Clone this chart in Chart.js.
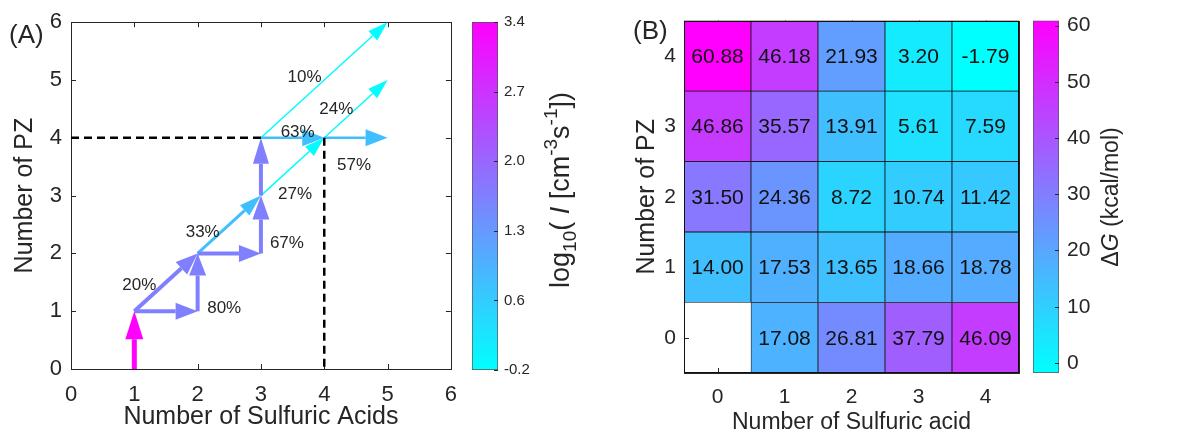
<!DOCTYPE html>
<html>
<head>
<meta charset="utf-8">
<title>PZ - sulfuric acid clusters</title>
<script src="https://cdn.jsdelivr.net/npm/chart.js@4.4.1/dist/chart.umd.min.js"></script>
<style>
  body { margin: 0; background: #fff; }
  #page { position: relative; width: 1191px; height: 432px; overflow: hidden; background: #fff; }
  #page canvas { position: absolute; top: 0; }
  .tag { position: absolute; font: 26px "Liberation Sans", Arial, sans-serif; color: #262626; line-height: 1; }
</style>
</head>
<body>
<div id="page">
  <canvas id="growth" width="470" height="440" style="left:0px"></canvas>
  <canvas id="rateBar" width="160" height="440" style="left:440px"></canvas>
  <canvas id="energy" width="425" height="440" style="left:600px"></canvas>
  <canvas id="energyBar" width="166" height="440" style="left:1025px"></canvas>
  <div class="tag" style="left:9px;top:21px">(A)</div>
  <div class="tag" style="left:633px;top:17px">(B)</div>
</div>
<script>
const FONT = '"Liberation Sans", Arial, Helvetica, sans-serif';
const INK = '#262626';

// ---- panel A: growth pathways ----
const axisMaxA = 6;
const fromSA = [1, 1, 1, 2, 2, 3, 3, 2, 3, 4, 3, 4, 3];
const fromPZ = [0, 1, 1, 1, 2, 2, 3, 2, 4, 4, 3, 4, 4];
const toSA   = [1, 2, 2, 2, 3, 3, 3, 3, 4, 5, 4, 5, 5];
const toPZ   = [1, 1, 2, 2, 2, 3, 4, 3, 4, 4, 4, 5, 6];
const fluxLog = [3.4, 1.6, 1.6, 1.6, 1.6, 1.6, 1.6, 0.7, 0.7, 0.7, -0.15, -0.15, -0.15];

// arrow styles (px)
const shaftW = [5, 4, 4, 4, 4, 4, 4, 3, 2.5, 2.5, 1.5, 1.5, 1.5];
const headL  = [28, 22, 22, 22, 22, 24, 26, 22, 22, 22, 20, 20, 20];
const headW  = [18, 17, 17, 17, 17, 17, 16, 14, 17, 17, 13, 13, 13];

const pctText = ['80%', '20%', '67%', '33%', '27%', '63%', '57%', '24%', '10%'];
const pctSA   = [2.42, 1.08, 3.41, 2.08, 3.54, 3.58, 4.47, 4.19, 3.69];
const pctPZ   = [1.05, 1.45, 2.17, 2.37, 3.02, 4.09, 3.53, 4.49, 5.04];

const guideSA = [[0, 3], [4, 4]];
const guidePZ = [[4, 4], [4, 0]];

const fluxRange = [-0.2, 3.4];
const fluxTickLabels = ['-0.2', '0.6', '1.3', '2.0', '2.7', '3.4'];

// ---- panel B: formation free energies ----
const saLabels = ['0', '1', '2', '3', '4'];
const pzTicks = [0, 1, 2, 3, 4];
const dG_PZ0 = [null, 17.08, 26.81, 37.79, 46.09];
const dG_PZ1 = [14.00, 17.53, 13.65, 18.66, 18.78];
const dG_PZ2 = [31.50, 24.36, 8.72, 10.74, 11.42];
const dG_PZ3 = [46.86, 35.57, 13.91, 5.61, 7.59];
const dG_PZ4 = [60.88, 46.18, 21.93, 3.20, -1.79];
const dGRange = [-1.79, 60.88];
const dGTicks = [0, 10, 20, 30, 40, 50, 60];

// MATLAB "cool" colormap
function cool(t) {
  t = Math.max(0, Math.min(1, t));
  return `rgb(${Math.round(255 * t)},${Math.round(255 * (1 - t))},255)`;
}
function coolGradient(chart) {
  const area = chart.chartArea;
  if (!area) return '#0ff';
  const g = chart.ctx.createLinearGradient(0, area.bottom, 0, area.top);
  g.addColorStop(0, 'rgb(0,255,255)');
  g.addColorStop(1, 'rgb(255,0,255)');
  return g;
}

// draws text made of parts (sub/superscripts, italics), rotated
function drawRich(ctx, parts, cx, cy, rot, base) {
  ctx.save();
  let total = 0;
  parts.forEach(p => {
    ctx.font = `${p.italic ? 'italic ' : ''}${p.size}px ${FONT}`;
    p.w = ctx.measureText(p.t).width;
    total += p.w;
  });
  ctx.translate(cx, cy);
  ctx.rotate(rot);
  ctx.fillStyle = INK;
  ctx.textBaseline = 'alphabetic';
  ctx.textAlign = 'left';
  let x = -total / 2;
  parts.forEach(p => {
    ctx.font = `${p.italic ? 'italic ' : ''}${p.size}px ${FONT}`;
    ctx.fillText(p.t, x, base + (p.dy || 0));
    x += p.w;
  });
  ctx.restore();
}

function tickFont(size) { return { size: size, family: FONT }; }

// ---------- plugins ----------
const framePlugin = {
  id: 'frame',
  beforeDatasetsDraw(chart) {
    const { ctx, chartArea: a, scales } = chart;
    ctx.save();
    ctx.strokeStyle = INK;
    ctx.lineWidth = 1;
    ctx.beginPath();
    scales.x.ticks.forEach(t => {
      const x = Math.round(scales.x.getPixelForValue(t.value)) + 0.5;
      ctx.moveTo(x, a.bottom); ctx.lineTo(x, a.bottom - 5);
      ctx.moveTo(x, a.top); ctx.lineTo(x, a.top + 5);
    });
    scales.y.ticks.forEach(t => {
      const y = Math.round(scales.y.getPixelForValue(t.value)) + 0.5;
      ctx.moveTo(a.left, y); ctx.lineTo(a.left + 5, y);
      ctx.moveTo(a.right, y); ctx.lineTo(a.right - 5, y);
    });
    ctx.stroke();
    ctx.strokeRect(Math.round(a.left) + 0.5, Math.round(a.top) + 0.5,
      Math.round(a.right - a.left), Math.round(a.bottom - a.top));
    ctx.restore();
  }
};

function headGeom(chart, i) {
  const xs = chart.scales.x, ys = chart.scales.y;
  const x0 = xs.getPixelForValue(fromSA[i]), y0 = ys.getPixelForValue(fromPZ[i]);
  const x1 = xs.getPixelForValue(toSA[i]), y1 = ys.getPixelForValue(toPZ[i]);
  const len = Math.hypot(x1 - x0, y1 - y0);
  const ux = (x1 - x0) / len, uy = (y1 - y0) / len;
  const nx = -uy, ny = ux;
  const bx = x1 - ux * headL[i], by = y1 - uy * headL[i];
  return { x1, y1, ux, uy, nx, ny, bx, by, w: headW[i] / 2 };
}

const arrowPlugin = {
  id: 'arrowHeads',
  beforeDatasetDraw(chart, args) {
    const i = chart.data.datasets[args.index].arrowIndex;
    if (i === undefined) return;
    const g = headGeom(chart, i);
    const ctx = chart.ctx;
    const r = g.w + 4;
    ctx.save();
    ctx.beginPath();
    ctx.rect(0, 0, chart.width, chart.height);
    ctx.moveTo(g.bx + g.nx * r, g.by + g.ny * r);
    ctx.lineTo(g.x1 + g.ux * 8 + g.nx * r, g.y1 + g.uy * 8 + g.ny * r);
    ctx.lineTo(g.x1 + g.ux * 8 - g.nx * r, g.y1 + g.uy * 8 - g.ny * r);
    ctx.lineTo(g.bx - g.nx * r, g.by - g.ny * r);
    ctx.closePath();
    ctx.clip('evenodd');
  },
  afterDatasetDraw(chart, args) {
    const ds = chart.data.datasets[args.index];
    const i = ds.arrowIndex;
    if (i === undefined) return;
    const ctx = chart.ctx;
    ctx.restore();
    const g = headGeom(chart, i);
    ctx.save();
    ctx.fillStyle = ds.borderColor;
    ctx.beginPath();
    ctx.moveTo(g.x1, g.y1);
    ctx.lineTo(g.bx + g.nx * g.w, g.by + g.ny * g.w);
    ctx.lineTo(g.bx - g.nx * g.w, g.by - g.ny * g.w);
    ctx.closePath();
    ctx.fill();
    ctx.restore();
  }
};

const pctPlugin = {
  id: 'pctLabels',
  afterDatasetsDraw(chart) {
    const { ctx, scales } = chart;
    ctx.save();
    ctx.font = `17px ${FONT}`;
    ctx.fillStyle = INK;
    ctx.textAlign = 'center';
    ctx.textBaseline = 'middle';
    pctText.forEach((t, k) => {
      ctx.fillText(t, scales.x.getPixelForValue(pctSA[k]), scales.y.getPixelForValue(pctPZ[k]));
    });
    ctx.restore();
  }
};

// ---------- panel A ----------
const growthSets = [];
guideSA.forEach((xs, k) => {
  growthSets.push({
    data: xs.map((x, j) => ({ x: x, y: guidePZ[k][j] })),
    showLine: true, pointRadius: 0, borderColor: '#000', borderWidth: 2.5,
    borderDash: [8, 5], clip: false
  });
});
fromSA.forEach((x, i) => {
  const t = (fluxLog[i] - fluxRange[0]) / (fluxRange[1] - fluxRange[0]);
  growthSets.push({
    arrowIndex: i,
    data: [{ x: fromSA[i], y: fromPZ[i] }, { x: toSA[i], y: toPZ[i] }],
    showLine: true, pointRadius: 0, borderColor: cool(t), borderWidth: shaftW[i],
    borderCapStyle: 'butt', clip: false
  });
});

new Chart(document.getElementById('growth'), {
  type: 'scatter',
  data: { datasets: growthSets },
  options: {
    responsive: false,
    animation: false,
    layout: { padding: { top: 21, right: 9, left: 0, bottom: 0 } },
    plugins: { legend: { display: false }, tooltip: { enabled: false } },
    scales: {
      x: {
        type: 'linear', min: 0, max: axisMaxA,
        ticks: { stepSize: 1, font: tickFont(22), color: INK, padding: 13, maxRotation: 0 },
        grid: { display: false, drawTicks: false },
        border: { display: false },
        title: { display: true, text: 'Number of Sulfuric Acids', font: tickFont(25), color: INK, padding: { top: 0, bottom: 8 } },
        afterFit(s) { s.height = 71; }
      },
      y: {
        type: 'linear', min: 0, max: axisMaxA,
        ticks: { stepSize: 1, font: tickFont(22), color: INK, padding: 9 },
        grid: { display: false, drawTicks: false },
        border: { display: false },
        title: { display: true, text: 'Number of PZ', font: tickFont(25), color: INK, padding: { top: 10, bottom: 0 } },
        afterFit(s) { s.width = 71; }
      }
    }
  },
  plugins: [framePlugin, arrowPlugin, pctPlugin]
});

// ---------- colour bars ----------
function colourBarTicks() {
  return {
    id: 'barTicks',
    afterDatasetsDraw(chart) {
      const { ctx, chartArea: a, scales } = chart;
      ctx.save();
      ctx.strokeStyle = INK;
      ctx.lineWidth = 1;
      ctx.beginPath();
      scales.y.ticks.forEach(t => {
        const y = Math.round(scales.y.getPixelForValue(t.value)) + 0.5;
        ctx.moveTo(a.right - 4, y); ctx.lineTo(a.right, y);
      });
      ctx.stroke();
      ctx.restore();
    }
  };
}

const fluxTickValues = fluxTickLabels.map((s, i) =>
  fluxRange[0] + i * (fluxRange[1] - fluxRange[0]) / (fluxTickLabels.length - 1));

new Chart(document.getElementById('rateBar'), {
  type: 'bar',
  data: {
    labels: ['J'],
    datasets: [{
      data: [fluxRange],
      backgroundColor: c => coolGradient(c.chart),
      borderColor: '#555', borderWidth: 1, borderSkipped: false,
      barPercentage: 1, categoryPercentage: 1
    }]
  },
  options: {
    responsive: false,
    animation: false,
    layout: { padding: { left: 32, top: 22, bottom: 70, right: 0 } },
    plugins: { legend: { display: false }, tooltip: { enabled: false } },
    scales: {
      x: { display: false },
      y: {
        position: 'right', min: fluxRange[0], max: fluxRange[1],
        afterBuildTicks(s) { s.ticks = fluxTickValues.map(v => ({ value: v })); },
        ticks: { callback: (v, i) => fluxTickLabels[i], font: tickFont(15), color: INK, padding: 6 },
        grid: { display: false, drawTicks: false },
        border: { display: false },
        afterFit(s) { s.width = 102; }
      }
    }
  },
  plugins: [colourBarTicks(), {
    id: 'fluxTitle',
    afterDraw(chart) {
      drawRich(chart.ctx, [
        { t: 'log', size: 27 },
        { t: '10', size: 19, dy: 7 },
        { t: '( ', size: 27 },
        { t: 'I', size: 27, italic: true },
        { t: ' [cm', size: 27 },
        { t: '-3', size: 19, dy: -12 },
        { t: 's', size: 27 },
        { t: '-1', size: 19, dy: -12 },
        { t: '])', size: 27 }
      ], 119, 190, -Math.PI / 2, 10);
    }
  }]
});

// ---------- panel B ----------
const dGRows = [dG_PZ0, dG_PZ1, dG_PZ2, dG_PZ3, dG_PZ4];
const energySets = dGRows.map((vals, r) => ({
  label: 'PZ ' + r,
  values: vals,
  data: vals.map(v => v === null ? null : [r - 0.5, r + 0.5]),
  backgroundColor: vals.map(v => v === null ? 'rgba(0,0,0,0)' : cool((v - dGRange[0]) / (dGRange[1] - dGRange[0]))),
  borderColor: '#111', borderWidth: 0.75, borderSkipped: false,
  barPercentage: 1, categoryPercentage: 1, grouped: false
}));

const cellTextPlugin = {
  id: 'cellText',
  afterDatasetsDraw(chart) {
    const { ctx, chartArea: a } = chart;
    ctx.save();
    ctx.font = `21px ${FONT}`;
    ctx.fillStyle = '#111';
    ctx.textAlign = 'center';
    ctx.textBaseline = 'middle';
    chart.data.datasets.forEach((ds, di) => {
      chart.getDatasetMeta(di).data.forEach((el, j) => {
        const v = ds.values[j];
        if (v === null) return;
        ctx.fillText(v.toFixed(2), el.x, (el.y + el.base) / 2 + 1);
      });
    });
    ctx.strokeStyle = '#111';
    ctx.lineWidth = 1;
    ctx.strokeRect(Math.round(a.left) + 0.5, Math.round(a.top) + 0.5,
      Math.round(a.right - a.left) - 1, Math.round(a.bottom - a.top) - 1);
    ctx.restore();
  }
};

new Chart(document.getElementById('energy'), {
  type: 'bar',
  data: { labels: saLabels, datasets: energySets },
  options: {
    responsive: false,
    animation: false,
    layout: { padding: { top: 19, right: 6, left: 0, bottom: 0 } },
    plugins: { legend: { display: false }, tooltip: { enabled: false } },
    scales: {
      x: {
        type: 'category', offset: true,
        ticks: { font: tickFont(21), color: INK, padding: 12, maxRotation: 0 },
        grid: { display: false, drawTicks: false },
        border: { display: false },
        title: { display: true, text: 'Number of Sulfuric acid', font: tickFont(23), color: INK, padding: { top: 0, bottom: 4 } },
        afterFit(s) { s.height = 67; }
      },
      y: {
        type: 'linear', min: -0.5, max: 4.5,
        afterBuildTicks(s) { s.ticks = pzTicks.map(v => ({ value: v })); },
        ticks: { font: tickFont(21), color: INK, padding: 8 },
        grid: { display: false, drawTicks: false },
        border: { display: false },
        title: { display: true, text: 'Number of PZ', font: tickFont(25), color: INK, padding: { top: 32, bottom: 0 } },
        afterFit(s) { s.width = 84; }
      }
    }
  },
  plugins: [framePlugin, cellTextPlugin]
});

new Chart(document.getElementById('energyBar'), {
  type: 'bar',
  data: {
    labels: ['dG'],
    datasets: [{
      data: [dGRange],
      backgroundColor: c => coolGradient(c.chart),
      borderColor: '#555', borderWidth: 1, borderSkipped: false,
      barPercentage: 1, categoryPercentage: 1
    }]
  },
  options: {
    responsive: false,
    animation: false,
    layout: { padding: { left: 8, top: 19, bottom: 67, right: 0 } },
    plugins: { legend: { display: false }, tooltip: { enabled: false } },
    scales: {
      x: { display: false },
      y: {
        position: 'right', min: dGRange[0], max: dGRange[1],
        afterBuildTicks(s) { s.ticks = dGTicks.map(v => ({ value: v })); },
        ticks: { font: tickFont(21), color: INK, padding: 8 },
        grid: { display: false, drawTicks: false },
        border: { display: false },
        afterFit(s) { s.width = 132; }
      }
    }
  },
  plugins: [colourBarTicks(), {
    id: 'dGTitle',
    afterDraw(chart) {
      drawRich(chart.ctx, [
        { t: '\u0394', size: 23 },
        { t: 'G', size: 23, italic: true },
        { t: ' (kcal/mol)', size: 23 }
      ], 85, 197, -Math.PI / 2, 8);
    }
  }]
});
</script>
</body>
</html>
